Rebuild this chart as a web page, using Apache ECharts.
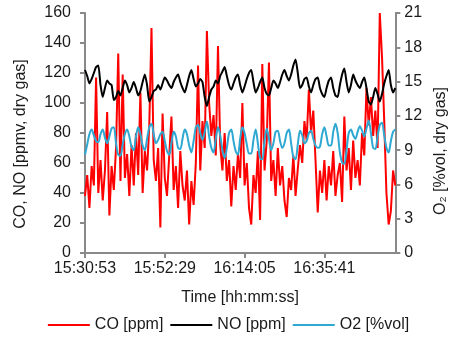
<!DOCTYPE html>
<html>
<head>
<meta charset="utf-8">
<script src="https://cdn.jsdelivr.net/npm/echarts@6/dist/echarts.min.js"></script>
<style>
  html, body { margin: 0; padding: 0; background: #fff; }
  #chart { width: 457px; height: 338px; }
</style>
</head>
<body>
<div id="chart"></div>
<script>
// time axis: one sample every 36 s from 15:30:53
var startTime = "15:30:53";
var stepSeconds = 36;
var tickLabels = ["15:30:53", "15:52:29", "16:14:05", "16:35:41"];

// CO [ppm]
var coValues = [
  38, 52, 30, 58, 45, 117, 40, 62, 35, 55,
  94, 25, 58, 42, 70, 133, 48, 119, 50, 66,
  38, 72, 45, 80, 52, 107, 40, 68, 55, 85,
  150, 62, 48, 70, 17, 93, 50, 38, 65, 91,
  42, 58, 30, 68, 45, 35, 55, 19, 48, 32,
  60, 125, 55, 88, 70, 148, 100, 78, 92, 65,
  138, 72, 55, 80, 48, 62, 31, 58, 42, 66,
  50, 100, 45, 60, 30, 19, 52, 40, 68, 22,
  126, 55, 75, 127, 48, 62, 38, 70, 45, 58,
  35, 24, 50, 42, 65, 38, 56, 72, 60, 88,
  75, 109, 80, 95, 62, 27, 55, 40, 62, 35,
  58, 45, 68, 38, 52, 60, 34, 91, 55, 70,
  42, 75, 50, 62, 45, 80, 65, 110, 85, 104,
  78, 95, 70, 160, 131, 88, 40, 19, 28, 55,
  45
];

// NO [ppm]
var noValues = [
  122, 118, 113, 116, 120, 124, 125, 112, 104, 110,
  115, 113, 112, 102, 104, 108, 105, 110, 115, 112,
  107, 110, 114, 110, 105, 108, 114, 119, 112, 101,
  104, 108, 109, 112, 109, 113, 117, 115, 112, 110,
  114, 117, 119, 114, 110, 107, 112, 118, 122, 116,
  111, 113, 116, 114, 104, 98, 104, 109, 111, 115,
  113, 118, 121, 124, 118, 112, 109, 113, 117, 119,
  112, 107, 111, 116, 120, 122, 114, 107, 110, 114,
  117, 110, 106, 105, 110, 115, 113, 110, 114, 119,
  122, 118, 115, 119, 125, 129, 120, 110, 112, 116,
  117, 111, 107, 112, 116, 117, 110, 106, 104, 110,
  115, 117, 110, 105, 104, 112, 119, 123, 114, 107,
  112, 119, 115, 112, 110, 114, 117, 110, 101, 99,
  104, 110, 106, 101, 106, 113, 118, 122, 112, 107,
  110
];

// O2 [%vol]
var o2Values = [
  8.6, 9.5, 10.4, 10.8, 10.3, 9.8, 9.7, 10.4, 10.8, 10.1,
  9.6, 10.2, 10.9, 11.0, 9.6, 8.6, 8.5, 9.5, 10.4, 10.8,
  10.2, 9.3, 9.0, 10.2, 11.0, 10.4, 9.4, 9.0, 10.0, 11.0,
  11.3, 10.4, 9.6, 9.9, 10.4, 10.6, 9.8, 8.9, 8.6, 9.6,
  10.6, 10.2, 9.2, 9.1, 10.0, 10.8, 10.4, 9.4, 8.8, 9.8,
  11.0, 11.2, 10.5, 9.9, 10.6, 11.5, 10.2, 9.2, 8.8, 10.0,
  11.0, 10.3, 9.0, 8.3, 9.2, 10.5, 10.8, 9.8, 8.9, 8.6,
  10.0, 11.0, 10.5, 9.5, 8.7, 8.7, 9.9, 10.8, 9.6, 8.3,
  8.2, 9.8, 10.9, 10.0, 9.0, 9.6, 10.6, 10.7, 9.8, 9.2,
  9.6, 10.5, 10.8, 9.6, 8.4, 8.2, 9.5, 10.7, 10.3, 9.6,
  9.8, 10.5, 10.7, 10.0, 9.4, 9.2, 9.3, 10.4, 11.0, 10.2,
  9.4, 9.4, 10.6, 11.3, 10.5, 8.8, 7.9, 7.8, 9.0, 10.5,
  10.8, 10.3, 10.0, 10.6, 11.1, 10.7, 10.2, 10.9, 11.6, 10.5,
  9.2, 9.1, 10.2, 11.2, 11.4, 10.3, 9.2, 8.8, 9.8, 10.6,
  10.8
];

// build hh:mm:ss category labels
function pad(n) { return (n < 10 ? "0" : "") + n; }
var parts = startTime.split(":");
var t0 = (+parts[0]) * 3600 + (+parts[1]) * 60 + (+parts[2]);
var categories = coValues.map(function (v, i) {
  var t = t0 + i * stepSeconds;
  return pad(Math.floor(t / 3600)) + ":" + pad(Math.floor(t / 60) % 60) + ":" + pad(t % 60);
});

var axisGray = "#898989";
var textColor = "#1a1a1a";
var font = "Liberation Sans";
var fs = 16;

var chart = echarts.init(document.getElementById("chart"));
var option = {
  animation: false,
  textStyle: { fontFamily: font },
  grid: { left: 85, right: 57, top: 13, bottom: 85 },
  legend: {
    top: 312,
    left: "center",
    icon: "rect",
    itemWidth: 42,
    itemHeight: 2,
    itemGap: 7,
    textStyle: { fontFamily: font, fontSize: fs, color: textColor },
    data: ["CO [ppm]", "NO [ppm]", "O2 [%vol]"]
  },
  xAxis: {
    type: "category",
    data: categories,
    boundaryGap: false,
    name: "Time [hh:mm:ss]",
    nameLocation: "middle",
    nameGap: 37,
    nameTextStyle: { fontFamily: font, fontSize: fs, color: textColor },
    axisLine: { lineStyle: { color: axisGray, width: 2 } },
    axisTick: { interval: 35, length: 5, lineStyle: { color: axisGray, width: 2 } },
    axisLabel: {
      interval: 35,
      margin: 8,
      fontFamily: font,
      fontSize: fs,
      color: textColor,
      formatter: function (v) { return tickLabels.indexOf(v) >= 0 ? v : ""; }
    },
    splitLine: { show: false }
  },
  yAxis: [
    {
      type: "value",
      min: 0,
      max: 160,
      interval: 20,
      name: "CO, NO [ppmv, dry gas]",
      nameLocation: "middle",
      nameRotate: 90,
      nameGap: 56,
      nameTextStyle: { fontFamily: font, fontSize: fs, color: textColor, padding: [0, 22, 0, 0] },
      axisLine: { show: true, lineStyle: { color: axisGray, width: 2 } },
      axisTick: { show: true, length: 5, lineStyle: { color: axisGray, width: 2 } },
      axisLabel: { margin: 14, fontFamily: font, fontSize: fs, color: textColor },
      splitLine: { show: false }
    },
    {
      type: "value",
      min: 0,
      max: 21,
      interval: 3,
      name: "O₂ [%vol, dry gas]",
      nameLocation: "middle",
      nameRotate: 90,
      nameGap: 30,
      nameTextStyle: { fontFamily: font, fontSize: fs, color: textColor, padding: [0, 36, 0, 0] },
      axisLine: { show: true, lineStyle: { color: axisGray, width: 2 } },
      axisTick: { show: true, length: 5, lineStyle: { color: axisGray, width: 2 } },
      axisLabel: { margin: 9, fontFamily: font, fontSize: fs, color: textColor },
      splitLine: { show: false }
    }
  ],
  series: [
    {
      name: "CO [ppm]",
      type: "line",
      yAxisIndex: 0,
      data: coValues,
      showSymbol: false,
      itemStyle: { color: "#ff0000" },
      lineStyle: { color: "#ff0000", width: 2 }
    },
    {
      name: "NO [ppm]",
      type: "line",
      yAxisIndex: 0,
      data: noValues,
      showSymbol: false,
      smooth: 0.2,
      itemStyle: { color: "#000000" },
      lineStyle: { color: "#000000", width: 2 }
    },
    {
      name: "O2 [%vol]",
      type: "line",
      yAxisIndex: 1,
      data: o2Values,
      showSymbol: false,
      smooth: 0.3,
      itemStyle: { color: "#2fa8d2" },
      lineStyle: { color: "#2fa8d2", width: 2 }
    }
  ]
};
chart.setOption(option);
</script>
</body>
</html>
